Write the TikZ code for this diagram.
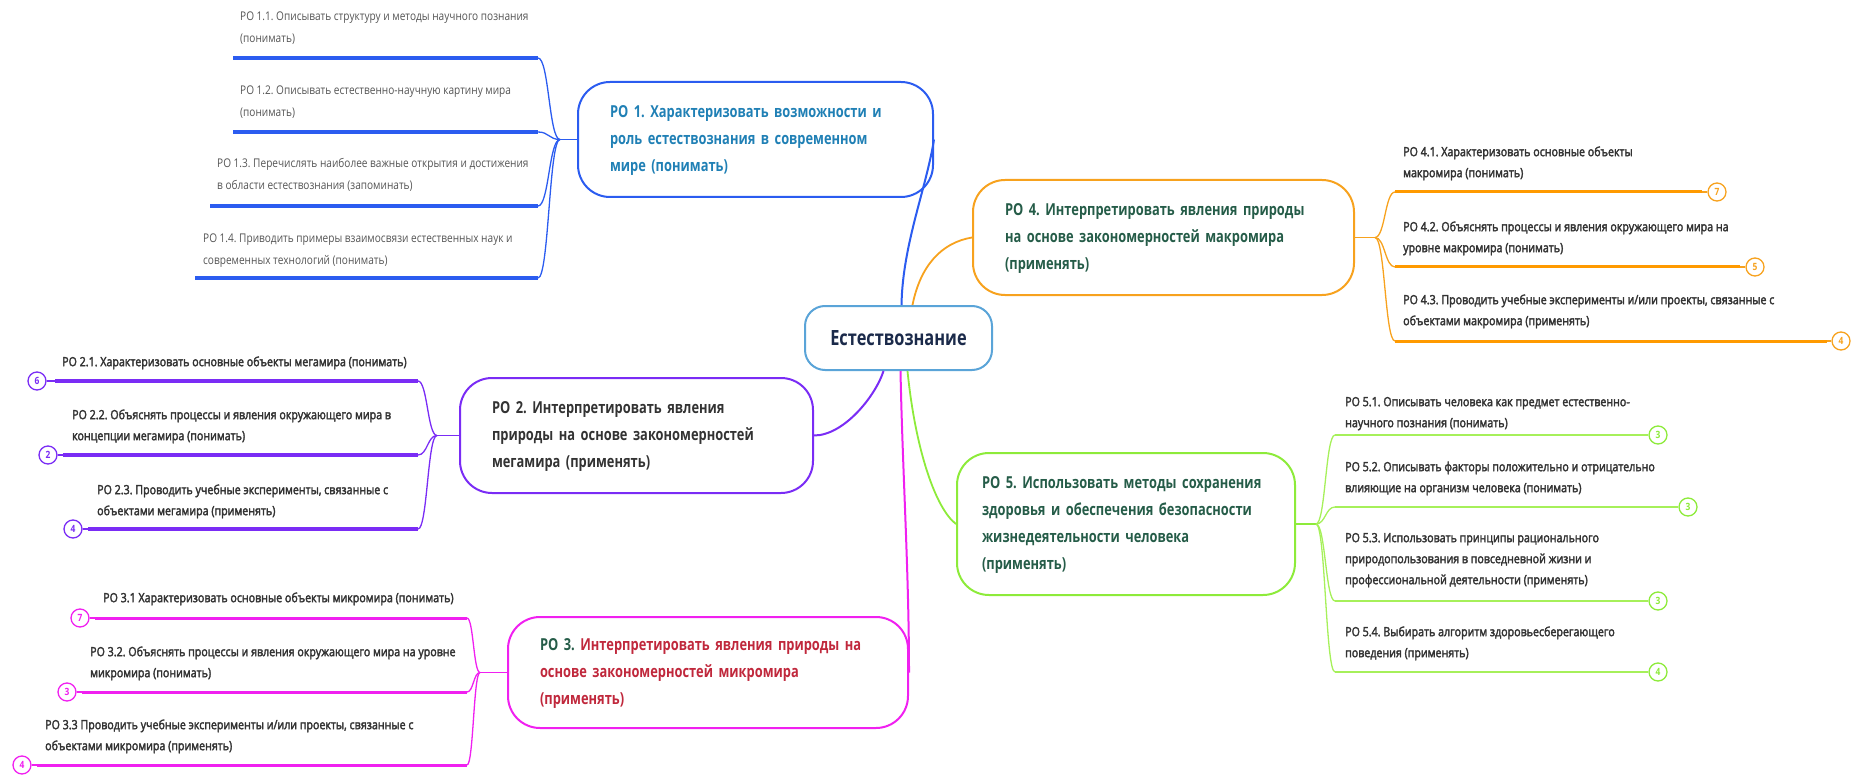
\documentclass[tikz,border=0pt]{standalone}
\usepackage{fontspec}
\setmainfont{Open Sans}[FakeStretch=0.84]
\newfontfamily\semifont{Open Sans}[FakeStretch=0.84,FakeBold=2.5]
\newfontfamily\boxfont{Open Sans}[FakeStretch=0.78]
\usetikzlibrary{calc}
\definecolor{cblue}{HTML}{2B5CF0}
\definecolor{ctextblue}{HTML}{2080B5}
\definecolor{ccenter}{HTML}{5AA4D8}
\definecolor{cnavy}{HTML}{1B2A4A}
\definecolor{corange}{HTML}{F7A21E}
\definecolor{cdorange}{HTML}{FF9A00}
\definecolor{cdgreen}{HTML}{255C48}
\definecolor{cpurple}{HTML}{7A2CF5}
\definecolor{cmagenta}{HTML}{F020F0}
\definecolor{ccrimson}{HTML}{C0283C}
\definecolor{cgreen}{HTML}{8DEB3A}
\definecolor{clgreen}{HTML}{A6F05A}
\definecolor{cgray}{HTML}{333333}
\definecolor{cgray2}{HTML}{555555}
\frenchspacing
\begin{document}
\begin{tikzpicture}[x=1pt,y=-1pt,
  mainbox/.style={draw, line width=2pt, rounded corners=32pt, inner xsep=32pt, inner ysep=0pt, align=left, font=\boxfont\bfseries\fontsize{16.5}{27}\selectfont},
  leaf/.style={anchor=north west, yshift=10.7pt, inner sep=0pt, align=left, font=\semifont\fontsize{12.7}{21}\selectfont, text=cgray},
  leafreg/.style={leaf, font=\fontsize{12}{22}\selectfont, text=cgray2},
  badge/.style={circle, draw, line width=1.3pt, fill=white, minimum size=18pt, inner sep=0pt, font=\bfseries\fontsize{10}{10}\selectfont},
  conn/.style={line width=2pt},
  br/.style={line width=1.3pt},
  ulthick/.style={line width=3.5pt},
  ulmid/.style={line width=3pt},
  ulthin/.style={line width=1.8pt}
]
\useasboundingbox (0,0) rectangle (1856,778);

% ---------- main nodes ----------
\node[draw=ccenter, line width=2pt, rounded corners=20pt, minimum width=187pt, minimum height=64pt, font=\boxfont\bfseries\fontsize{21}{24}\selectfont, text=cnavy, fill=white] (c) at (898.5,338) {Естествознание};

\node[mainbox, draw=cblue, text=ctextblue, text width=291pt, minimum height=115pt] (r1) at (755.5,139.5) {\strut РО 1. Характеризовать возможности и\\ роль естествознания в современном\\ мире (понимать)\strut};
\node[mainbox, draw=cpurple, text=cgray, text width=289pt, minimum height=115pt] (r2) at (636.5,435.5) {\strut РО 2. Интерпретировать явления\\ природы на основе закономерностей\\ мегамира  (применять)\strut};
\node[mainbox, draw=cmagenta, text=ccrimson, text width=336pt, minimum height=111pt] (r3) at (708,672.5) {\strut{\color{cdgreen}РО 3.} Интерпретировать явления природы на\\ основе закономерностей микромира\\ (применять)\strut};
\node[mainbox, draw=corange, text=cdgreen, text width=317pt, minimum height=115pt] (r4) at (1163.5,237.5) {\strut РО 4. Интерпретировать явления природы\\ на основе закономерностей макромира\\ (применять)\strut};
\node[mainbox, draw=cgreen, text=cdgreen, inner xsep=25pt, text width=288pt, minimum height=142pt] (r5) at (1126,524) {\strut РО 5. Использовать методы сохранения\\ здоровья и обеспечения безопасности\\ жизнедеятельности  человека\\ (применять)\strut};

% ---------- main connectors ----------
\draw[conn, cblue] (r1.east) .. controls +(-8,50) and +(1,-60) .. ([xshift=3pt]c.north);
\draw[conn, corange, line width=1.8pt] ([xshift=14pt]c.north) .. controls +(8,-40) and +(-30,5) .. (r4.west);
\draw[conn, cpurple] ([xshift=-15pt]c.south) .. controls +(-8,25) and +(30,0) .. (r2.east);
\draw[conn, cmagenta] ([xshift=2pt]c.south) .. controls +(2,100) and +(0,-100) .. (r3.east);
\draw[conn, cgreen, line width=1.8pt] ([xshift=9pt]c.south) .. controls +(8,80) and +(-20,-15) .. (r5.west);

% ---------- branch points ----------
\coordinate (b1) at (560,139.5);
\coordinate (b2) at (437,435.5);
\coordinate (b3) at (480,672.5);
\coordinate (b4) at (1375,237.5);
\coordinate (b5) at (1316,524);
\draw[br, cblue] (r1.west) -- (b1);
\draw[br, cpurple] (r2.west) -- (b2);
\draw[br, cmagenta] (r3.west) -- (b3);
\draw[br, corange] (r4.east) -- (b4);
\draw[br, cgreen] (r5.east) -- (b5);

% ---------- RO1 leaves ----------
\node[leafreg] (l11) at (240,16) {\strut РО 1.1. Описывать структуру и методы научного познания\\ (понимать)};
\node[leafreg] (l12) at (240,90) {\strut РО 1.2. Описывать естественно-научную картину мира\\ (понимать)};
\node[leafreg] (l13) at (217,163) {\strut РО 1.3. Перечислять наиболее важные открытия и достижения\\ в области естествознания (запоминать)};
\node[leafreg] (l14) at (203,238) {\strut РО 1.4.  Приводить примеры взаимосвязи естественных наук и\\ современных технологий (понимать)};
\coordinate (u11a) at (233,58);  \coordinate (u11b) at (538,58);
\coordinate (u12a) at (233,132); \coordinate (u12b) at (538,132);
\coordinate (u13a) at (210,206); \coordinate (u13b) at (538,206);
\coordinate (u14a) at (195,278); \coordinate (u14b) at (538,278);
\foreach \i in {11,12,13,14}{
  \draw[ulthick, cblue] (u\i a) -- (u\i b);
  \draw[br, cblue] (b1) .. controls +(-11,0) and +(11,0) .. (u\i b);
}

% ---------- RO2 leaves ----------
\node[leaf] (l21) at (62,362) {\strut РО 2.1. Характеризовать основные объекты мегамира  (понимать)};
\node[leaf] (l22) at (72,415) {\strut РО 2.2.  Объяснять процессы и явления окружающего мира в\\ концепции мегамира (понимать)};
\node[leaf] (l23) at (97,490) {\strut РО 2.3. Проводить учебные эксперименты, связанные с\\ объектами мегамира (применять)};
\coordinate (u21a) at (55,381);  \coordinate (u21b) at (418,381);
\coordinate (u22a) at (63,455);  \coordinate (u22b) at (418,455);
\coordinate (u23a) at (88,529);  \coordinate (u23b) at (418,529);
\node[badge, draw=cpurple, text=cpurple] (g21) at (37,381) {6};
\node[badge, draw=cpurple, text=cpurple] (g22) at (48,455) {2};
\node[badge, draw=cpurple, text=cpurple] (g23) at (73,529) {4};
\foreach \i in {21,22,23}{
  \draw[ulthick, cpurple] (u\i a) -- (u\i b);
  \draw[br, cpurple] (g\i) -- (u\i a);
  \draw[br, cpurple] (b2) .. controls +(-9.5,0) and +(9.5,0) .. (u\i b);
}

% ---------- RO3 leaves ----------
\node[leaf] (l31) at (103,598) {\strut РО 3.1 Характеризовать основные объекты микромира  (понимать)};
\node[leaf] (l32) at (90,652) {\strut РО 3.2. Объяснять процессы и явления окружающего мира на уровне\\ микромира (понимать)};
\node[leaf] (l33) at (45,725) {\strut РО 3.3 Проводить учебные эксперименты и/или проекты, связанные с\\ объектами микромира (применять)};
\coordinate (u31a) at (95,618);  \coordinate (u31b) at (467,618);
\coordinate (u32a) at (82,692);  \coordinate (u32b) at (467,692);
\coordinate (u33a) at (37,765);  \coordinate (u33b) at (467,765);
\node[badge, draw=cmagenta, text=cmagenta] (g31) at (80,618) {7};
\node[badge, draw=cmagenta, text=cmagenta] (g32) at (67,692) {3};
\node[badge, draw=cmagenta, text=cmagenta] (g33) at (22,765) {4};
\foreach \i in {31,32,33}{
  \draw[ulmid, cmagenta] (u\i a) -- (u\i b);
  \draw[br, cmagenta] (g\i) -- (u\i a);
  \draw[br, cmagenta] (b3) .. controls +(-6.5,0) and +(6.5,0) .. (u\i b);
}

% ---------- RO4 leaves ----------
\node[leaf] (l41) at (1403,152) {\strut РО 4.1. Характеризовать основные объекты\\ макромира  (понимать)};
\node[leaf] (l42) at (1403,227) {\strut РО 4.2. Объяснять процессы и явления окружающего мира на\\ уровне макромира (понимать)};
\node[leaf] (l43) at (1403,300) {\strut РО 4.3. Проводить учебные эксперименты и/или проекты, связанные с\\ объектами макромира (применять)};
\coordinate (u41a) at (1395,192); \coordinate (u41b) at (1702,192);
\coordinate (u42a) at (1395,267); \coordinate (u42b) at (1740,267);
\coordinate (u43a) at (1395,341); \coordinate (u43b) at (1827,341);
\node[badge, draw=corange, text=corange] (g41) at (1717,192) {7};
\node[badge, draw=corange, text=corange] (g42) at (1755,267) {5};
\node[badge, draw=corange, text=corange] (g43) at (1841,341) {4};
\foreach \i in {41,42,43}{
  \draw[ulmid, cdorange] (u\i a) -- (u\i b);
  \draw[br, corange] (u\i b) -- (g\i);
  \draw[br, corange] (b4) .. controls +(10,0) and +(-10,0) .. (u\i a);
}

% ---------- RO5 leaves ----------
\node[leaf] (l51) at (1345,402) {\strut РО 5.1. Описывать человека как предмет естественно-\\ научного познания (понимать)};
\node[leaf] (l52) at (1345,467) {\strut РО 5.2. Описывать факторы положительно и отрицательно\\ влияющие на организм человека (понимать)};
\node[leaf] (l53) at (1345,538) {\strut РО 5.3. Использовать принципы рационального\\ природопользования в повседневной жизни и\\ профессиональной деятельности (применять)};
\node[leaf] (l54) at (1345,632) {\strut РО 5.4. Выбирать алгоритм здоровьесберегающего\\ поведения (применять)};
\coordinate (u51a) at (1335,435); \coordinate (u51b) at (1643,435);
\coordinate (u52a) at (1335,507); \coordinate (u52b) at (1673,507);
\coordinate (u53a) at (1335,601); \coordinate (u53b) at (1643,601);
\coordinate (u54a) at (1335,672); \coordinate (u54b) at (1643,672);
\node[badge, draw=cgreen, text=cgreen] (g51) at (1658,435) {3};
\node[badge, draw=cgreen, text=cgreen] (g52) at (1688,507) {3};
\node[badge, draw=cgreen, text=cgreen] (g53) at (1658,601) {3};
\node[badge, draw=cgreen, text=cgreen] (g54) at (1658,672) {4};
\foreach \i in {51,52,53,54}{
  \draw[ulthin, clgreen] (u\i a) -- (u\i b);
  \draw[br, clgreen] (u\i b) -- (g\i);
  \draw[br, clgreen] (b5) .. controls +(9.5,0) and +(-9.5,0) .. (u\i a);
}
\end{tikzpicture}
\end{document}
